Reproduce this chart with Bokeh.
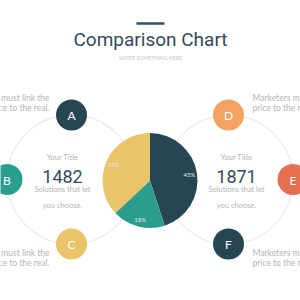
import math
from bokeh.plotting import figure
from bokeh.models import Range1d
from bokeh.core.properties import value
from bokeh.embed import file_html
from bokeh.resources import INLINE

# ---- data ----
title = "Comparison Chart"
subtitle = "WRITE SOMETHING HERE"
pie_values = [45, 18, 37]
pie_labels = ["45%", "18%", "37%"]
pie_colors = ["#264653", "#2a9d8f", "#e9c46a"]
left_letters = ["A", "B", "C"]
right_letters = ["D", "E", "F"]
left_colors = ["#264653", "#2a9d8f", "#e9c46a"]
right_colors = ["#f4a261", "#e76f51", "#264653"]
totals = ["1482", "1871"]
block_title = "Your Title"
block_lines = ["Solutions that let", "you choose."]
side_lines = ["Marketers must link the", "price to the real."]

W = H = 300
p = figure(width=W, height=H, output_backend="svg", toolbar_location=None,
           x_range=Range1d(0, W), y_range=Range1d(0, H), min_border=0)
p.axis.visible = False
p.grid.visible = False
p.outline_line_color = None
p.background_fill_color = "white"
p.border_fill_color = "white"

def Y(y):
    return H - y

LATO = value("Lato")
ROBOTO = value("Roboto")

# header
p.line([136, 164], [Y(23), Y(23)], line_width=2.5, line_color="#2c5364")
p.text([150], [Y(39)], text=[title], text_font=ROBOTO, text_font_size="19px",
       text_color="#34495e", text_align="center", text_baseline="middle")
p.text([150], [Y(57)], text=[subtitle], text_font=LATO, text_font_size="5.2px",
       text_color="#c8c8c8", text_align="center", text_baseline="middle")

# rings
ring_cx = [71, 228]
ring_cy = 179
ring_r = 64.5
p.circle(ring_cx, [Y(ring_cy)] * 2, radius=ring_r, fill_color=None,
         line_color="#ececec", line_width=1.3)

# pie
pcx, pcy, pr = 149.5, 180, 47.5
tot = sum(pie_values)
cum = 0
starts, ends, mids = [], [], []
for v in pie_values:
    s = math.pi / 2 - 2 * math.pi * cum / tot
    cum += v
    e = math.pi / 2 - 2 * math.pi * cum / tot
    starts.append(s); ends.append(e); mids.append((s + e) / 2)
p.wedge(x=[pcx] * 3, y=[Y(pcy)] * 3, radius=pr, start_angle=starts,
        end_angle=ends, direction="clock", fill_color=pie_colors,
        line_color=None)
lr = 40
p.text([pcx + lr * math.cos(m) for m in mids],
       [Y(pcy) + lr * math.sin(m) for m in mids], text=pie_labels,
       text_font=LATO, text_font_size="6px", text_color="#e6e6e6",
       text_align="center", text_baseline="middle")

# letter circles
angles = [90, 180, 270]
rights = [90, 0, 270]
cxs, cys, cols, lets = [], [], [], []
for a, l, c in zip(angles, left_letters, left_colors):
    cxs.append(ring_cx[0] + ring_r * math.cos(math.radians(a)))
    cys.append(Y(ring_cy) + ring_r * math.sin(math.radians(a)))
    cols.append(c); lets.append(l)
for a, l, c in zip(rights, right_letters, right_colors):
    cxs.append(ring_cx[1] + ring_r * math.cos(math.radians(a)))
    cys.append(Y(ring_cy) + ring_r * math.sin(math.radians(a)))
    cols.append(c); lets.append(l)
p.circle(cxs, cys, radius=15.5, fill_color=cols, line_color=None)
p.text(cxs, [y - 0.5 for y in cys], text=lets, text_font=LATO,
       text_font_size="12px", text_color="white", text_align="center",
       text_baseline="middle")

# center blocks
block_cx = [62, 236]
for cx, t in zip(block_cx, totals):
    p.text([cx], [Y(156.5)], text=[block_title], text_font=LATO,
           text_font_size="7.5px", text_color="#b4b4b4", text_align="center",
           text_baseline="middle")
    p.text([cx], [Y(176)], text=[t], text_font=ROBOTO,
           text_font_size="18px", text_color="#34495e", text_align="center",
           text_baseline="middle")
    p.text([cx, cx], [Y(189), Y(205)], text=block_lines, text_font=LATO,
           text_font_size="7.5px", text_color="#b4b4b4", text_align="center",
           text_baseline="middle")

# side texts
for yy in [97, 252]:
    p.text([49, 49], [Y(yy), Y(yy + 10)], text=side_lines, text_font=LATO,
           text_font_size="8.5px", text_color="#b4b4b4", text_align="right",
           text_baseline="middle")
    p.text([252, 252], [Y(yy), Y(yy + 10)], text=side_lines, text_font=LATO,
           text_font_size="8.5px", text_color="#b4b4b4", text_align="left",
           text_baseline="middle")

open("out.html", "w").write(file_html(p, INLINE))
